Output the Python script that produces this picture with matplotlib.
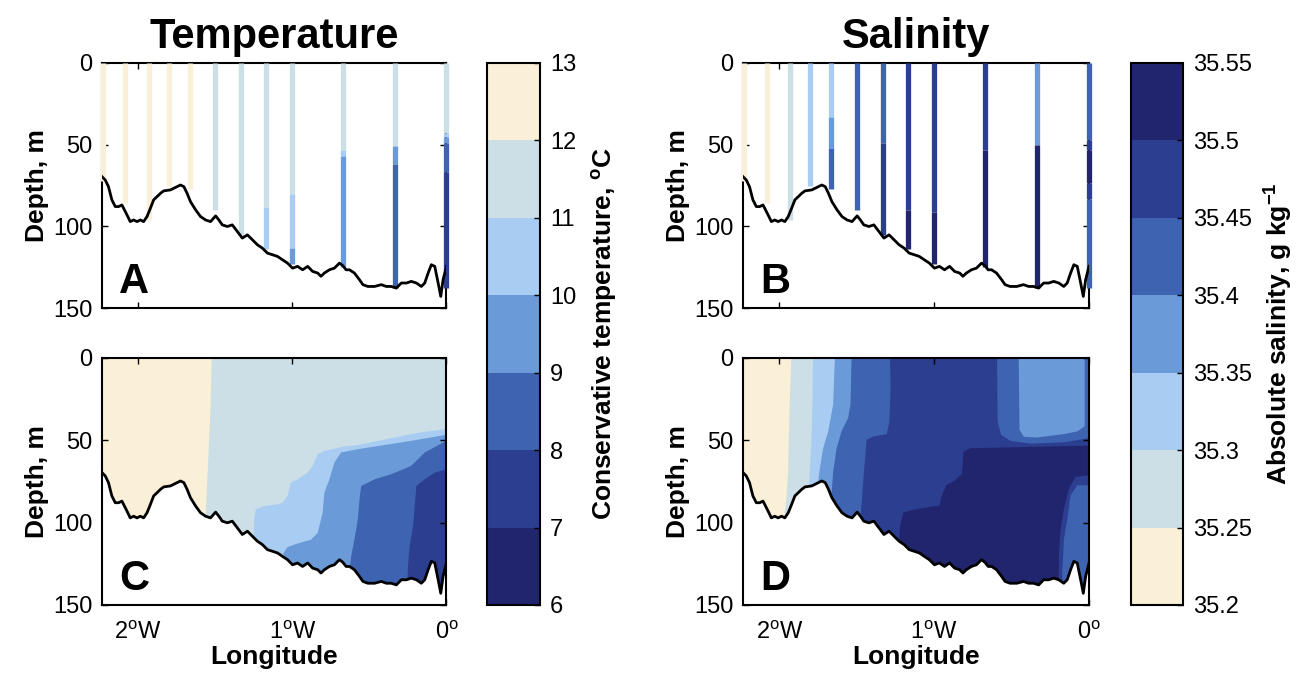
import matplotlib
matplotlib.use('Agg')
import matplotlib.pyplot as plt
import numpy as np
from matplotlib.colors import ListedColormap, BoundaryNorm
from matplotlib.cm import ScalarMappable

plt.rcParams['font.family'] = 'Liberation Sans'
plt.rcParams['mathtext.fontset'] = 'custom'
plt.rcParams['mathtext.rm'] = 'Liberation Sans'
plt.rcParams['mathtext.it'] = 'Liberation Sans:italic'
plt.rcParams['mathtext.bf'] = 'Liberation Sans:bold'

# colour classes, warm/fresh -> cold/salty
class_colors = ['#FAF0D7', '#CCDFE6', '#A9CDF2', '#6A9AD7', '#3E63B0', '#2C3E8F', '#21256E']

temp_levels = [6, 7, 8, 9, 10, 11, 12, 13]
temp_ticklabels = ['6', '7', '8', '9', '10', '11', '12', '13']
sal_levels = [35.2, 35.25, 35.3, 35.35, 35.4, 35.45, 35.5, 35.55]
sal_ticklabels = ['35.2', '35.25', '35.3', '35.35', '35.4', '35.45', '35.5', '35.55']

# bathymetry
bathy_lon = [-2.234, -2.213, -2.192, -2.170, -2.148, -2.126, -2.105, -2.094, -2.072, -2.051,
             -2.029, -2.007, -1.985, -1.964, -1.942, -1.920, -1.899, -1.877, -1.855, -1.834,
             -1.790, -1.747, -1.725, -1.703, -1.682, -1.660, -1.627, -1.595, -1.562, -1.530,
             -1.497, -1.476, -1.454, -1.421, -1.389, -1.356, -1.324, -1.291, -1.258, -1.226,
             -1.193, -1.161, -1.128, -1.096, -1.063, -1.031, -0.998, -0.966, -0.933, -0.900,
             -0.868, -0.835, -0.814, -0.792, -0.759, -0.727, -0.694, -0.672, -0.651, -0.629,
             -0.597, -0.564, -0.542, -0.510, -0.466, -0.423, -0.390, -0.358, -0.325, -0.293,
             -0.260, -0.228, -0.195, -0.163, -0.141, -0.119, -0.098, -0.076, -0.054, -0.037,
             -0.022, 0.0]
bathy_depth = [69.6, 71.6, 75.7, 83.8, 87.9, 87.9, 86.9, 88.9, 93.0, 97.1,
               96.1, 97.1, 96.1, 97.1, 94.0, 88.9, 83.8, 81.8, 79.8, 78.3,
               77.7, 75.7, 74.7, 75.7, 79.8, 84.9, 89.9, 94.0, 96.1, 97.1,
               93.6, 96.1, 99.1, 100.1, 99.1, 103.2, 107.2, 105.2, 108.3, 111.3,
               113.4, 116.4, 117.4, 118.4, 120.5, 122.5, 125.6, 124.5, 126.6, 124.5,
               127.6, 128.6, 130.6, 128.6, 126.6, 125.6, 122.5, 124.1, 126.6, 126.6,
               128.6, 132.7, 135.7, 136.8, 136.8, 135.7, 136.8, 136.8, 137.8, 134.7,
               134.7, 133.7, 134.7, 136.8, 134.7, 128.6, 123.5, 124.5, 134.7, 142.9,
               132.7, 124.5]

# CTD stations
station_lon = [-2.230, -2.082, -1.932, -1.799, -1.664, -1.501, -1.333, -1.168, -1.001, -0.670, -0.337, 0.0]

# temperature profiles: depth edges and class value of each segment
temp_edges = [[0, 72], [0, 86], [0, 96], [0, 75], [0, 77], [0, 90], [0, 105],
              [0, 88, 114], [0, 80, 113, 123], [0, 53, 57, 125], [0, 51, 62, 138],
              [0, 43, 45.5, 49, 66.5, 138]]
temp_vals = [[12.5], [12.5], [12.5], [12.5], [12.5], [11.5], [11.5],
             [11.5, 10.5], [11.5, 10.5, 9.5], [11.5, 10.5, 9.5], [11.5, 9.5, 8.5],
             [11.5, 10.5, 9.5, 8.5, 7.5]]

# salinity profiles
sal_edges = [[0, 72], [0, 86], [0, 96], [0, 75], [0, 33, 52, 77], [0, 90], [0, 49, 105],
             [0, 90, 114], [0, 91, 123], [0, 53, 125], [0, 50, 138],
             [0, 47, 53, 73.5, 83, 138]]
sal_vals = [[35.225], [35.225], [35.275], [35.325], [35.325, 35.375, 35.425], [35.425],
            [35.425, 35.475], [35.475, 35.525], [35.475, 35.525], [35.475, 35.525],
            [35.375, 35.525], [35.425, 35.475, 35.525, 35.475, 35.425]]

# gridded temperature section: class boundaries (lon, depth) and class values
temp_base = 11.5
temp_left_lon = [-1.523, -1.530, -1.541, -1.551, -1.562, -1.562]
temp_left_depth = [0, 29, 53, 74, 95, 150]
temp_left_val = 12.5
temp_right_lon = [
    [0, -0.141, -0.228, -0.575, -0.662, -0.792, -0.835, -0.868, -0.900, -0.966, -1.009,
     -1.031, -1.063, -1.096, -1.183, -1.237, -1.248, -1.252, -1.252],
    [0, -0.011, -0.228, -0.575, -0.684, -0.727, -0.759, -0.792, -0.803, -0.835, -0.879,
     -0.966, -1.031, -1.057, -1.057],
    [0, -0.141, -0.228, -0.358, -0.466, -0.553, -0.564, -0.575, -0.597, -0.618, -0.629, -0.629],
    [0, -0.076, -0.141, -0.195, -0.206, -0.217, -0.239, -0.250, -0.254, -0.254],
]
temp_right_depth = [
    [43.1, 44.8, 46.2, 52.9, 53.7, 56.4, 58.4, 65.5, 69.6, 73.7, 75.7,
     83.8, 87.9, 88.9, 89.9, 92.0, 98.1, 110.3, 150],
    [46.5, 46.8, 50.3, 55.4, 57.4, 63.5, 73.7, 81.8, 94.0, 106.2, 110.3,
     112.7, 114.8, 118.4, 150],
    [50.3, 57.4, 65.5, 70.6, 73.7, 77.7, 85.9, 98.1, 110.3, 120.5, 130.6, 150],
    [67.6, 69.6, 73.7, 77.7, 89.9, 102.2, 114.4, 126.6, 136.8, 150],
]
temp_right_val = [10.5, 9.5, 8.5, 7.5]

# gridded salinity section
sal_base = 35.475
sal_left_lon = [
    [-1.285, -1.281, -1.289, -1.306, -1.393, -1.436, -1.453, -1.466, -1.475, -1.475],
    [-1.533, -1.540, -1.555, -1.598, -1.630, -1.652, -1.663, -1.663],
    [-1.641, -1.652, -1.684, -1.717, -1.738, -1.749, -1.749],
    [-1.782, -1.786, -1.792, -1.803, -1.807, -1.807],
    [-1.922, -1.933, -1.943, -1.954, -1.965, -1.965],
]
sal_left_depth = [
    [0, 18.0, 38.5, 46.2, 47.7, 49.7, 69.2, 85.5, 95.8, 150],
    [0, 28.2, 36.4, 44.6, 55.0, 69.2, 83.5, 150],
    [0, 28.2, 44.6, 55.0, 67.1, 75.3, 150],
    [0, 28.2, 48.7, 69.2, 77.3, 150],
    [0, 28.2, 69.2, 85.5, 93.7, 150],
]
sal_left_val = [35.425, 35.375, 35.325, 35.275, 35.225]
sal_patch_lon = [
    [-0.594, 0, 0, -0.162, -0.378, -0.508, -0.568, -0.590, -0.594],
    [-0.454, -0.028, -0.028, -0.076, -0.162, -0.335, -0.421, -0.449, -0.454],
    [0, -0.378, -0.767, -0.810, -0.821, -0.864, -0.922, -0.950, -0.965, -1.112, -1.198,
     -1.220, -1.231, -1.231, 0],
    [0, -0.086, -0.130, -0.162, -0.184, -0.195, -0.195, 0],
    [0, -0.076, -0.119, -0.140, -0.162, -0.173, -0.173, 0],
]
sal_patch_depth = [
    [0, 0, 48.7, 51.2, 52.0, 50.3, 46.6, 38.5, 0],
    [0, 0, 41.5, 44.6, 46.2, 48.3, 47.9, 43.6, 0],
    [53.2, 54.0, 54.8, 56.9, 70.2, 74.3, 77.3, 83.5, 89.6, 91.7, 93.7,
     101.9, 120.3, 150, 150],
    [71.2, 72.2, 79.4, 91.7, 104.0, 120, 150, 150],
    [77.3, 77.3, 83.5, 97.8, 110.1, 130.6, 150, 150],
]
sal_patch_val = [35.425, 35.375, 35.525, 35.475, 35.425]

XMIN, XMAX = -2.234, 0.0
DMAX = 150

cmap_t = ListedColormap(class_colors[::-1])
norm_t = BoundaryNorm(temp_levels, cmap_t.N)
cmap_s = ListedColormap(class_colors)
norm_s = BoundaryNorm(sal_levels, cmap_s.N)

fig = plt.figure(figsize=(12.96, 6.78), dpi=100)
axA = fig.add_axes([0.0787, 0.5457, 0.2658, 0.3614])
axC = fig.add_axes([0.0787, 0.1077, 0.2658, 0.3643])
axB = fig.add_axes([0.5733, 0.5457, 0.2670, 0.3614])
axD = fig.add_axes([0.5733, 0.1077, 0.2670, 0.3643])
caxT = fig.add_axes([0.3758, 0.1077, 0.0409, 0.7994])
caxS = fig.add_axes([0.8727, 0.1077, 0.0401, 0.7994])


def style(ax, letter, bottom):
    ax.set_xlim(XMIN, XMAX)
    ax.set_ylim(DMAX, 0)
    ax.set_yticks([0, 50, 100, 150])
    ax.set_xticks([-2, -1, 0])
    if bottom:
        ax.set_xticklabels(['2$^{\\rm o}$W', '1$^{\\rm o}$W', '0$^{\\rm o}$'])
        ax.set_xlabel('Longitude', fontsize=19, fontweight='bold', labelpad=1)
    else:
        ax.set_xticklabels([])
    ax.tick_params(direction='in', top=True, right=True, length=4, width=1,
                   labelsize=17, pad=7)
    ax.tick_params(axis='x', pad=12)
    ax.set_ylabel('Depth, m', fontsize=19, fontweight='bold', labelpad=3)
    for s in ax.spines.values():
        s.set_linewidth(1.5)
    ax.text(0.05, 0.06, letter, transform=ax.transAxes, fontsize=30,
            fontweight='bold', ha='left', va='baseline', zorder=6)


def stations(ax, edges, vals, cmap, norm):
    for lon, e, v in zip(station_lon, edges, vals):
        for i in range(len(v)):
            ax.plot([lon, lon], [e[i], e[i + 1]], color=cmap(norm(v[i])), lw=3.8,
                    solid_capstyle='butt', clip_on=False, zorder=3)
    ax.plot(bathy_lon, bathy_depth, color='k', lw=2, zorder=4)


def seabed(ax):
    ax.fill_between(bathy_lon, bathy_depth, DMAX, color='white', zorder=2, lw=0)
    ax.plot(bathy_lon, bathy_depth, color='k', lw=2, zorder=4)


# A: temperature stations
stations(axA, temp_edges, temp_vals, cmap_t, norm_t)
style(axA, 'A', False)
axA.set_title('Temperature', fontsize=30, fontweight='bold', pad=11)

# B: salinity stations
stations(axB, sal_edges, sal_vals, cmap_s, norm_s)
style(axB, 'B', False)
axB.set_title('Salinity', fontsize=30, fontweight='bold', pad=11)

# C: temperature section
axC.fill([XMIN, XMAX, XMAX, XMIN], [0, 0, DMAX, DMAX], color=cmap_t(norm_t(temp_base)), lw=0, zorder=1)
axC.fill([XMIN] + temp_left_lon + [XMIN], [0] + temp_left_depth + [DMAX],
         color=cmap_t(norm_t(temp_left_val)), lw=0, zorder=1)
for lo, de, v in zip(temp_right_lon, temp_right_depth, temp_right_val):
    axC.fill(lo + [XMAX], de + [DMAX], color=cmap_t(norm_t(v)), lw=0, zorder=1)
seabed(axC)
style(axC, 'C', True)

# D: salinity section
axD.fill([XMIN, XMAX, XMAX, XMIN], [0, 0, DMAX, DMAX], color=cmap_s(norm_s(sal_base)), lw=0, zorder=1)
for lo, de, v in zip(sal_left_lon, sal_left_depth, sal_left_val):
    axD.fill([XMIN] + lo + [XMIN], [0] + de + [DMAX], color=cmap_s(norm_s(v)), lw=0, zorder=1)
for lo, de, v in zip(sal_patch_lon, sal_patch_depth, sal_patch_val):
    axD.fill(lo, de, color=cmap_s(norm_s(v)), lw=0, zorder=1)
seabed(axD)
style(axD, 'D', True)

# colorbars
cbT = fig.colorbar(ScalarMappable(norm=norm_t, cmap=cmap_t), cax=caxT, ticks=temp_levels)
cbT.ax.set_yticklabels(temp_ticklabels)
cbT.set_label('Conservative temperature, $^{\\mathbf{o}}$C', fontsize=19, fontweight='bold', labelpad=10)
cbS = fig.colorbar(ScalarMappable(norm=norm_s, cmap=cmap_s), cax=caxS, ticks=sal_levels)
cbS.ax.set_yticklabels(sal_ticklabels)
cbS.set_label('Absolute salinity, g kg$^{\\mathbf{-1}}$', fontsize=19, fontweight='bold', labelpad=8)
for cb in (cbT, cbS):
    cb.outline.set_linewidth(1.5)
    cb.ax.tick_params(direction='in', length=4, width=1, labelsize=17, pad=7)

fig.savefig('out.png', dpi=100)
